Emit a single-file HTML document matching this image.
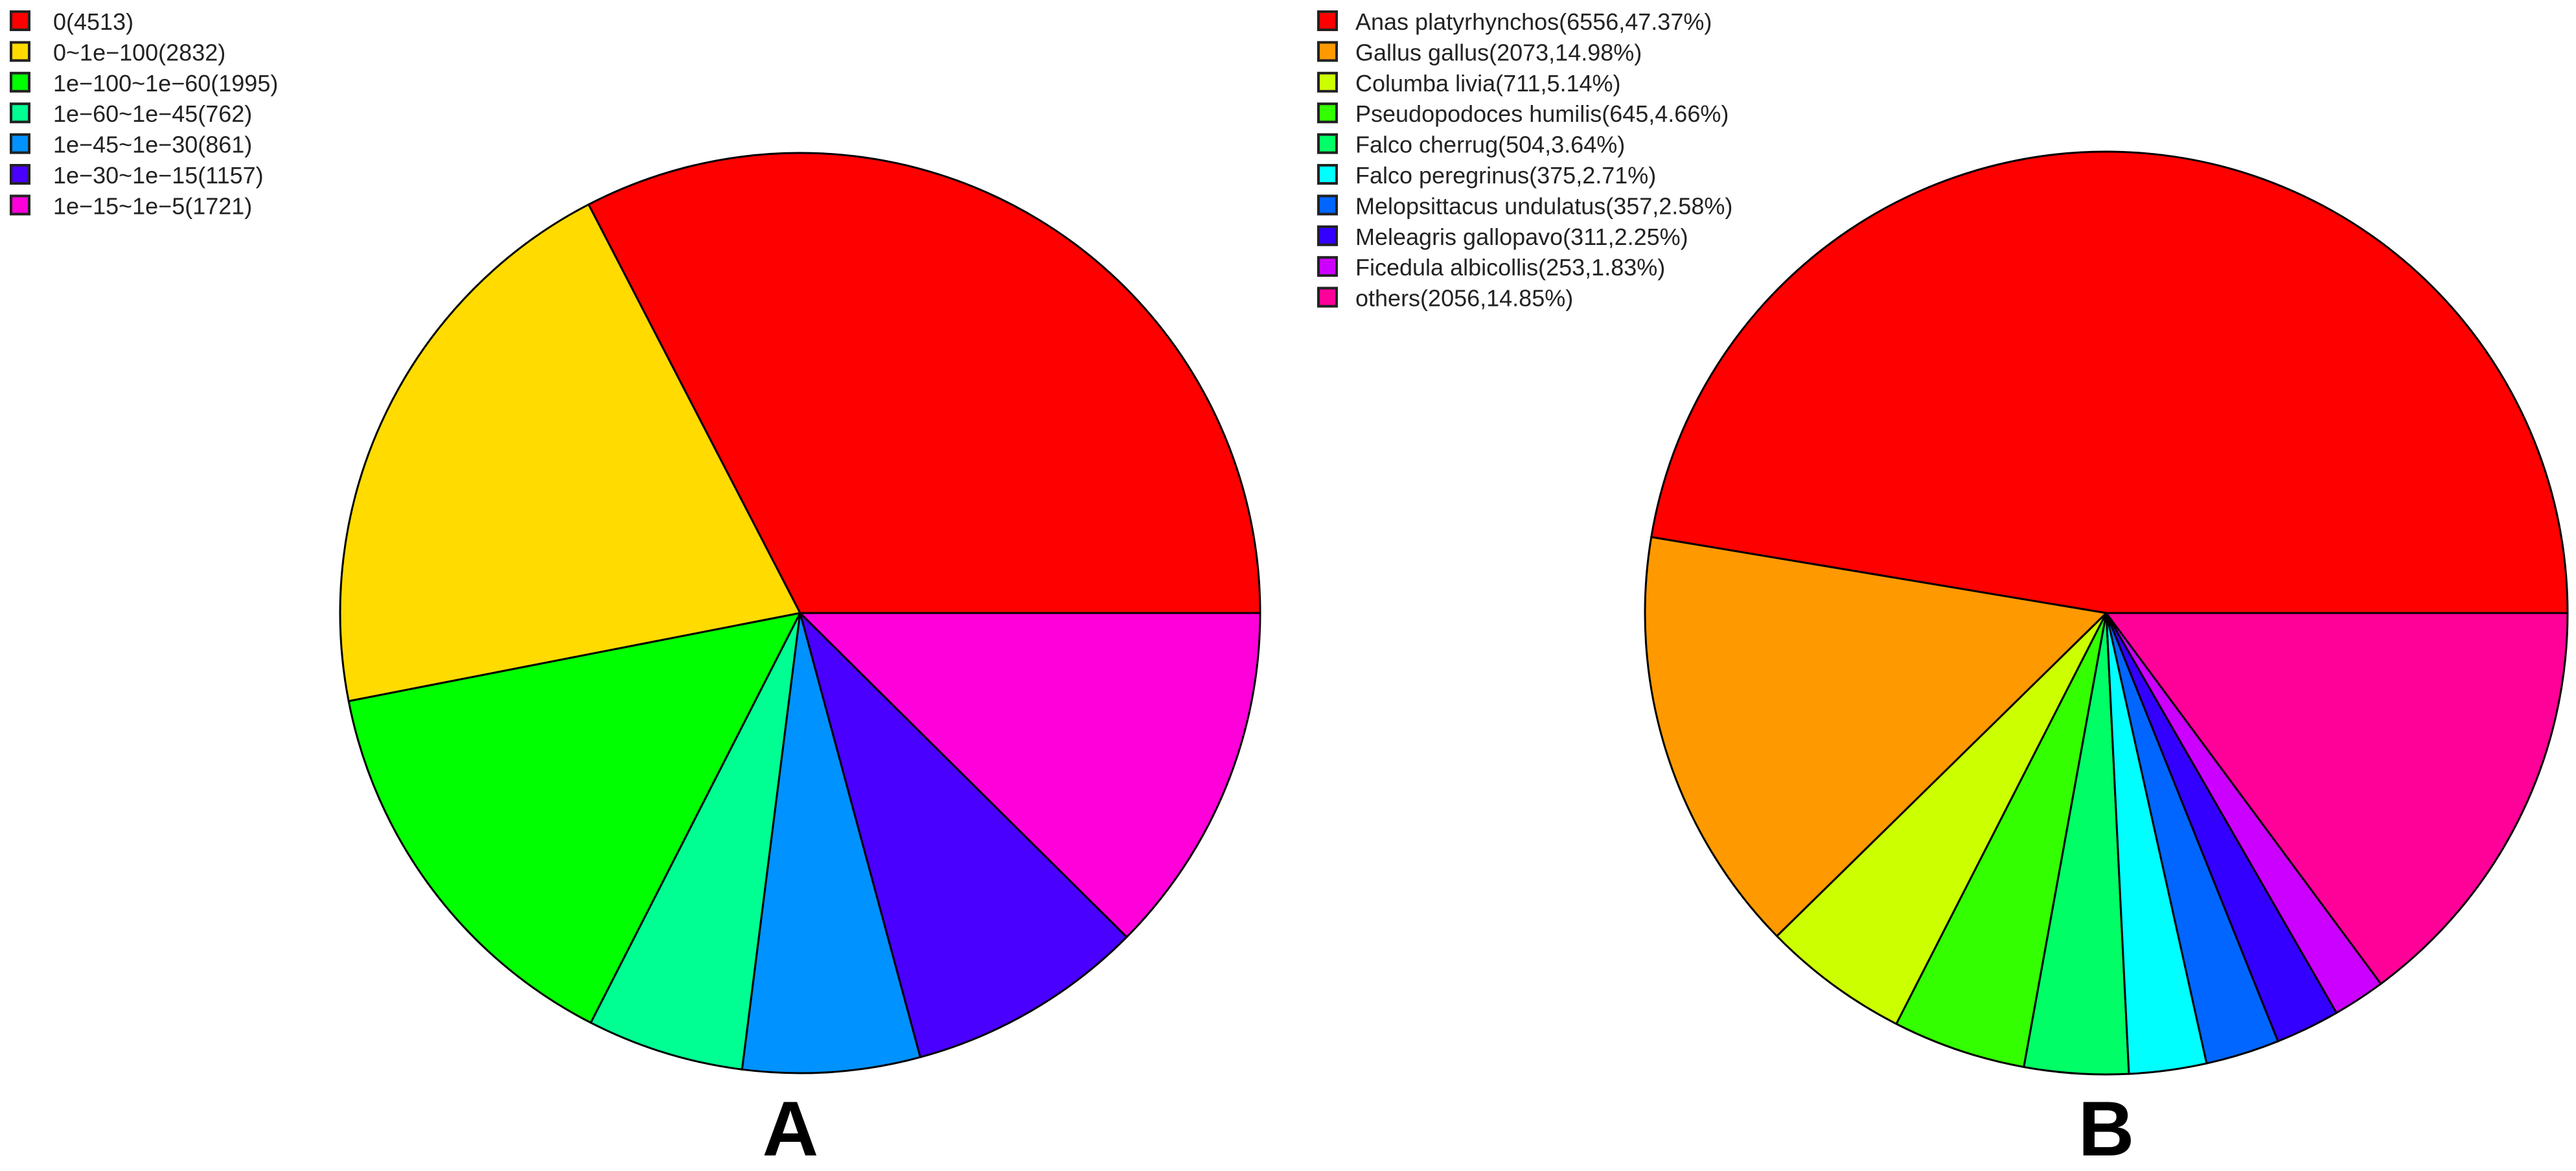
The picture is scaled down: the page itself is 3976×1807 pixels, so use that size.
<!DOCTYPE html>
<html><head><meta charset="utf-8"><style>
html,body{margin:0;padding:0;background:#fff;}
svg{display:block;font-family:"Liberation Sans",Arial,sans-serif;}
</style></head><body>
<svg id="chart" width="3976" height="1807" viewBox="0 0 3976 1807">
<g id="pieA"></g>
<g id="pieB"></g>
<g id="legA"></g>
<g id="legB"></g>
<text x="1220" y="1783" font-size="120" font-weight="bold" text-anchor="middle">A</text>
<text x="3251" y="1783" font-size="120" font-weight="bold" text-anchor="middle">B</text>
</svg>
<script>
const labelsA = ["0(4513)","0~1e\u2212100(2832)","1e\u2212100~1e\u221260(1995)","1e\u221260~1e\u221245(762)","1e\u221245~1e\u221230(861)","1e\u221230~1e\u221215(1157)","1e\u221215~1e\u22125(1721)"];
const valuesA = [4513,2832,1995,762,861,1157,1721];
const colorsA = ["#FF0000","#FFDB00","#00FF00","#00FF92","#0092FF","#4900FF","#FF00DB"];
const labelsB = ["Anas platyrhynchos(6556,47.37%)","Gallus gallus(2073,14.98%)","Columba livia(711,5.14%)","Pseudopodoces humilis(645,4.66%)","Falco cherrug(504,3.64%)","Falco peregrinus(375,2.71%)","Melopsittacus undulatus(357,2.58%)","Meleagris gallopavo(311,2.25%)","Ficedula albicollis(253,1.83%)","others(2056,14.85%)"];
const valuesB = [6556,2073,711,645,504,375,357,311,253,2056];
const colorsB = ["#FF0000","#FF9900","#CCFF00","#33FF00","#00FF66","#00FFFF","#0066FF","#3300FF","#CC00FF","#FF0099"];
const NS="http://www.w3.org/2000/svg";
function pie(gid,vals,cols,cx,cy,r,prefix){
  const g=document.getElementById(gid);
  const tot=vals.reduce((a,b)=>a+b,0);
  let a0=0;
  vals.forEach((v,i)=>{
    const a1=a0+v/tot*2*Math.PI;
    const x0=cx+r*Math.cos(a0), y0=cy-r*Math.sin(a0);
    const x1=cx+r*Math.cos(a1), y1=cy-r*Math.sin(a1);
    const large=(a1-a0)>Math.PI?1:0;
    const p=document.createElementNS(NS,"path");
    p.setAttribute("d",`M${cx},${cy}L${x0},${y0}A${r},${r} 0 ${large} 0 ${x1},${y1}Z`);
    p.setAttribute("fill",cols[i]);p.setAttribute("stroke","#000");p.setAttribute("stroke-width","3");
    p.setAttribute("stroke-linejoin","round");
    
    
    g.appendChild(p);a0=a1;
  });
}
function legend(gid,labels,cols,sx,tx,y0,prefix){
  const g=document.getElementById(gid);
  labels.forEach((t,i)=>{
    const y=y0+i*47.4;
    const rc=document.createElementNS(NS,"rect");
    rc.setAttribute("x",sx);rc.setAttribute("y",y-15);rc.setAttribute("width",28);rc.setAttribute("height",28);
    rc.setAttribute("fill",cols[i]);rc.setAttribute("stroke","#222");rc.setAttribute("stroke-width","4");
    
    
    g.appendChild(rc);
    const tx_=document.createElementNS(NS,"text");
    tx_.setAttribute("x",tx);tx_.setAttribute("y",y+13);tx_.setAttribute("font-size","36");tx_.setAttribute("fill","#222");
    tx_.textContent=t;
    
    
    g.appendChild(tx_);
  });
}
pie("pieA",valuesA,colorsA,1235,946,710,"a");
pie("pieB",valuesB,colorsB,3251,946,712,"b");
legend("legA",labelsA,colorsA,17,82,33,"a");
legend("legB",labelsB,colorsB,2035,2092,33,"b");
</script>
</body></html>
